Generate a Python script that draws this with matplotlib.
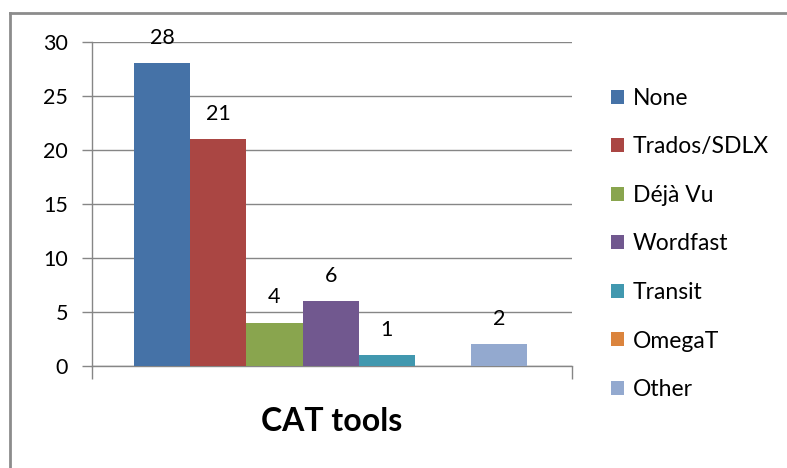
import matplotlib.pyplot as plt
from matplotlib.lines import Line2D
from matplotlib.patches import Patch

# CAT tools survey counts
tools = ['None', 'Trados/SDLX', 'Déjà Vu', 'Wordfast', 'Transit', 'OmegaT', 'Other']
counts = [28, 21, 4, 6, 1, 0, 2]
colors = ['#4572A7', '#AA4643', '#89A54E', '#71588F', '#4198AF', '#DB843D', '#93A9CF']
category = 'CAT tools'
yticks = [0, 5, 10, 15, 20, 25, 30]

plt.rcParams['font.family'] = ['Lato', 'DejaVu Sans']
grey = '#868686'

fig = plt.figure(figsize=(7.87, 4.68), dpi=100)
ax = fig.add_axes([0.1169, 0.2185, 0.6099, 0.6923])

for i, (name, val, col) in enumerate(zip(tools, counts, colors)):
    ax.bar(i, val, width=1.0, align='edge', color=col, label=name, zorder=3)
    if val > 0:
        ax.annotate(str(val), (i + 0.5, val), xytext=(0, 11), textcoords='offset points',
                    ha='center', va='bottom', fontsize=15.5)

ax.set_xlim(-0.75, 7.8)
ax.set_ylim(0, 30)
ax.set_yticks(yticks)
ax.set_xticks([-0.75, 7.8])
ax.set_xticklabels(['', ''])
ax.yaxis.grid(True, color=grey, linewidth=1, zorder=0)
for side in ['top', 'right']:
    ax.spines[side].set_visible(False)
for side in ['left', 'bottom']:
    ax.spines[side].set_color(grey)
    ax.spines[side].set_linewidth(1)
ax.tick_params(axis='y', length=7.2, width=1, color=grey, pad=10, labelsize=15.5)
ax.tick_params(axis='x', length=9.5, width=1, color=grey)
ax.set_xlabel(category, fontsize=23, fontweight='bold', labelpad=17)

handles = [Patch(facecolor=c, edgecolor='none') for c in colors]
fig.legend(handles, tools, loc='upper left', bbox_to_anchor=(611 / 787, 1 - 88 / 468),
           frameon=False, fontsize=16.5, handlelength=0.57, handleheight=0.57,
           handletextpad=0.39, labelspacing=1.2, borderpad=0, borderaxespad=0)

# chart frame (only top and left edges visible)
fig.add_artist(Line2D([10 / 787, 1], [1 - 13 / 468, 1 - 13 / 468], color='#8c8c8c', linewidth=2))
fig.add_artist(Line2D([10 / 787, 10 / 787], [0, 1 - 13 / 468], color='#8c8c8c', linewidth=2))

fig.savefig('out.png', dpi=100)
